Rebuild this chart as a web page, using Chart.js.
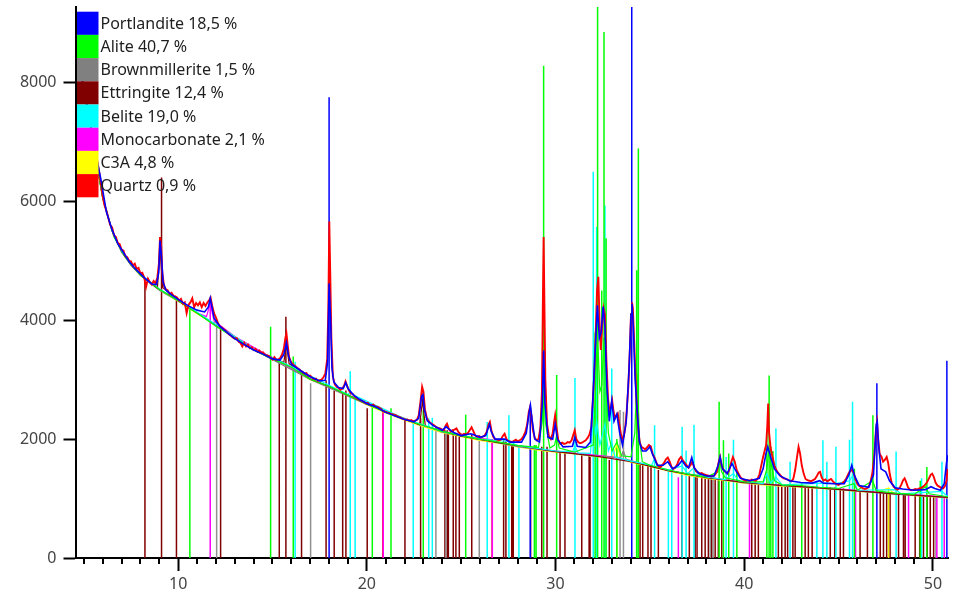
<!DOCTYPE html>
<html>
<head>
<meta charset="utf-8">
<script src="https://cdn.jsdelivr.net/npm/chart.js@4.4.0/dist/chart.umd.min.js"></script>
<style>
  html, body { margin: 0; padding: 0; background: #fff; }
  #wrap { width: 969px; height: 593px; }
</style>
</head>
<body>
<div id="wrap"><canvas id="xrd" width="969" height="593"></canvas></div>
<script>
// phases shown in the legend (quantities in wt-%)
var phaseNames = ['Portlandite', 'Alite', 'Brownmillerite', 'Ettringite', 'Belite', 'Monocarbonate', 'C3A', 'Quartz'];
var phasePercents = ['18,5', '40,7', '1,5', '12,4', '19,0', '2,1', '4,8', '0,9'];
var phaseColors = ['#0000ff', '#00ff00', '#808080', '#800000', '#00ffff', '#ff00ff', '#ffff00', '#ff0000'];

var xTicks = [10, 20, 30, 40, 50];
var yTicks = [0, 2000, 4000, 6000, 8000];

// measured pattern [2theta, counts]
var measured = [
  [4.70,8450],[4.85,8170],[5.00,7920],[5.15,7660],[5.30,7390],[5.45,7120],[5.60,6870],[5.75,6620],[5.85,6420],[6.00,6090],
  [6.10,5930],[6.20,5840],[6.30,5720],[6.40,5600],[6.50,5560],[6.60,5430],[6.70,5400],[6.80,5300],[6.90,5280],[7.00,5190],
  [7.10,5170],[7.20,5080],[7.30,5060],[7.40,5000],[7.50,4990],[7.60,4920],[7.70,4950],[7.80,4860],[7.90,4880],[8.00,4790],
  [8.10,4800],[8.20,4720],[8.30,4560],[8.40,4700],[8.50,4640],[8.60,4600],[8.70,4660],[8.80,4620],[8.90,4720],[8.98,4950],
  [9.04,5400],[9.10,5250],[9.16,4800],[9.25,4580],[9.35,4520],[9.45,4500],[9.55,4440],[9.65,4460],[9.75,4410],[9.85,4400],
  [9.95,4380],[10.05,4330],[10.15,4360],[10.25,4280],[10.35,4300],[10.45,4120],[10.55,4260],[10.65,4300],[10.75,4370],[10.85,4220],
  [10.95,4290],[11.05,4250],[11.15,4300],[11.25,4220],[11.35,4290],[11.45,4240],[11.55,4300],[11.65,4340],[11.72,4380],[11.80,4250],
  [11.90,4120],[12.00,4050],[12.10,3960],[12.20,3900],[12.30,3880],[12.40,3850],[12.50,3830],[12.60,3790],[12.70,3760],[12.80,3740],
  [12.90,3710],[13.00,3690],[13.10,3700],[13.20,3640],[13.30,3620],[13.40,3560],[13.50,3620],[13.60,3560],[13.70,3590],[13.80,3530],
  [13.90,3550],[14.00,3500],[14.10,3520],[14.20,3470],[14.30,3490],[14.40,3450],[14.50,3460],[14.60,3420],[14.70,3410],[14.80,3400],
  [14.90,3370],[15.00,3340],[15.10,3380],[15.20,3330],[15.30,3340],[15.40,3360],[15.50,3420],[15.60,3520],[15.68,3700],[15.74,3780],
  [15.80,3600],[15.88,3380],[15.98,3300],[16.08,3260],[16.20,3230],[16.30,3200],[16.40,3180],[16.50,3150],[16.60,3130],[16.70,3100],
  [16.80,3110],[16.90,3060],[17.00,3070],[17.10,3030],[17.20,3010],[17.30,3020],[17.40,2980],[17.50,2990],[17.60,3000],[17.70,3040],
  [17.80,3100],[17.90,3350],[17.96,4200],[18.01,5660],[18.06,4800],[18.12,3700],[18.20,3050],[18.30,2920],[18.40,2880],[18.50,2860],
  [18.60,2830],[18.70,2850],[18.80,2900],[18.87,2970],[18.95,2900],[19.05,2820],[19.15,2770],[19.25,2760],[19.35,2720],[19.45,2690],
  [19.55,2670],[19.65,2660],[19.75,2640],[19.85,2630],[19.95,2600],[20.05,2610],[20.15,2580],[20.25,2570],[20.35,2580],[20.45,2550],
  [20.55,2545],[20.65,2530],[20.75,2510],[20.85,2470],[20.95,2460],[21.05,2450],[21.15,2440],[21.25,2430],[21.35,2420],[21.45,2410],
  [21.55,2400],[21.65,2380],[21.75,2370],[21.85,2350],[21.95,2340],[22.05,2320],[22.15,2330],[22.25,2310],[22.35,2320],[22.45,2300],
  [22.55,2310],[22.65,2320],[22.75,2400],[22.85,2650],[22.93,2880],[23.00,2800],[23.08,2500],[23.18,2350],[23.28,2300],[23.38,2270],
  [23.48,2250],[23.58,2230],[23.68,2200],[23.78,2190],[23.88,2180],[23.98,2160],[24.08,2150],[24.18,2230],[24.25,2260],[24.35,2170],
  [24.45,2130],[24.55,2150],[24.65,2160],[24.75,2180],[24.85,2120],[24.95,2090],[25.05,2070],[25.15,2090],[25.25,2080],[25.35,2100],
  [25.45,2150],[25.55,2200],[25.65,2130],[25.75,2060],[25.85,2040],[25.95,2050],[26.05,2030],[26.15,2040],[26.25,2060],[26.35,2120],
  [26.45,2250],[26.52,2290],[26.60,2150],[26.70,2040],[26.80,2000],[26.90,1990],[27.00,1980],[27.10,1990],[27.20,2050],[27.30,2090],
  [27.40,2000],[27.50,1970],[27.60,1960],[27.70,1950],[27.80,1970],[27.90,1990],[28.00,1960],[28.10,1980],[28.20,2000],[28.30,2050],
  [28.40,2120],[28.50,2250],[28.58,2450],[28.65,2540],[28.72,2400],[28.80,2150],[28.90,2020],[29.00,1980],[29.10,2000],[29.20,2200],
  [29.28,2800],[29.33,4330],[29.37,5400],[29.41,4300],[29.46,3000],[29.55,2250],[29.65,2050],[29.75,2000],[29.85,2100],[29.93,2300],
  [29.98,2400],[30.05,2200],[30.15,1980],[30.25,1920],[30.35,1940],[30.45,1920],[30.55,1930],[30.65,1950],[30.75,1940],[30.85,1980],
  [30.95,2080],[31.02,2150],[31.10,2000],[31.20,1950],[31.30,1930],[31.40,1940],[31.50,1960],[31.60,1980],[31.70,2020],[31.80,2080],
  [31.90,2200],[31.97,2600],[32.05,3100],[32.12,3700],[32.20,4500],[32.27,4730],[32.33,4000],[32.40,3500],[32.47,3900],[32.55,4200],
  [32.62,4100],[32.70,3300],[32.78,2700],[32.86,2450],[32.94,2550],[33.00,2650],[33.06,2500],[33.14,2350],[33.22,2400],[33.30,2430],
  [33.38,2250],[33.46,2100],[33.55,1990],[33.62,2050],[33.70,2200],[33.78,2500],[33.86,2900],[33.94,3500],[34.00,4100],[34.05,4300],
  [34.10,4200],[34.16,3700],[34.22,3200],[34.30,2600],[34.38,2200],[34.46,1950],[34.55,1870],[34.65,1850],[34.75,1830],[34.85,1860],
  [34.95,1900],[35.05,1880],[35.15,1750],[35.25,1690],[35.35,1600],[35.45,1540],[35.55,1530],[35.65,1560],[35.75,1600],[35.85,1660],
  [35.95,1690],[36.05,1620],[36.15,1530],[36.25,1500],[36.35,1520],[36.45,1580],[36.55,1660],[36.65,1700],[36.75,1640],[36.85,1600],
  [36.95,1560],[37.05,1520],[37.15,1560],[37.25,1620],[37.35,1520],[37.45,1460],[37.55,1440],[37.65,1420],[37.75,1430],[37.85,1410],
  [37.95,1400],[38.05,1390],[38.15,1380],[38.25,1370],[38.35,1380],[38.45,1400],[38.55,1450],[38.65,1620],[38.72,1700],[38.80,1560],
  [38.90,1480],[39.00,1450],[39.10,1420],[39.20,1470],[39.30,1600],[39.40,1700],[39.50,1620],[39.60,1480],[39.70,1420],[39.80,1360],
  [39.90,1330],[40.00,1310],[40.10,1300],[40.20,1310],[40.30,1300],[40.40,1320],[40.50,1310],[40.60,1300],[40.70,1330],[40.80,1400],
  [40.90,1550],[41.00,1700],[41.08,1800],[41.16,1900],[41.22,2200],[41.27,2600],[41.32,2100],[41.40,1850],[41.50,1700],[41.60,1560],
  [41.70,1480],[41.80,1430],[41.90,1400],[42.00,1360],[42.10,1340],[42.20,1330],[42.30,1320],[42.40,1300],[42.50,1290],[42.60,1330],
  [42.70,1480],[42.80,1700],[42.88,1870],[42.96,1760],[43.05,1560],[43.15,1420],[43.25,1330],[43.35,1310],[43.45,1300],[43.55,1290],
  [43.65,1310],[43.75,1330],[43.85,1380],[43.95,1440],[44.02,1450],[44.10,1360],[44.20,1300],[44.30,1320],[44.40,1290],[44.50,1310],
  [44.60,1330],[44.70,1290],[44.80,1260],[44.90,1240],[45.00,1230],[45.10,1250],[45.20,1260],[45.30,1290],[45.40,1330],[45.50,1400],
  [45.60,1460],[45.70,1480],[45.80,1430],[45.90,1320],[46.00,1240],[46.10,1210],[46.20,1190],[46.30,1170],[46.40,1160],[46.50,1170],
  [46.60,1200],[46.70,1290],[46.80,1450],[46.90,1750],[46.98,2150],[47.04,2280],[47.10,2000],[47.18,1750],[47.28,1700],[47.36,1620],
  [47.45,1650],[47.55,1700],[47.63,1600],[47.72,1400],[47.82,1260],[47.92,1200],[48.02,1170],[48.12,1150],[48.22,1170],[48.32,1230],
  [48.42,1310],[48.50,1340],[48.58,1280],[48.68,1190],[48.78,1150],[48.88,1140],[48.98,1150],[49.08,1160],[49.18,1150],[49.28,1170],
  [49.38,1180],[49.48,1200],[49.58,1230],[49.68,1270],[49.78,1330],[49.88,1400],[49.96,1420],[50.04,1370],[50.14,1270],[50.24,1220],
  [50.34,1200],[50.44,1180],[50.54,1170],[50.64,1210],[50.72,1300],[50.78,1500]
];

// calculated (fitted) pattern
var calculated = [
  [4.70,8400],[5.00,7900],[5.30,7360],[5.60,6850],[5.90,6380],[6.20,5820],[6.50,5520],[6.80,5290],[7.10,5140],[7.40,4990],
  [7.70,4880],[8.00,4780],[8.30,4690],[8.60,4610],[8.85,4600],[8.97,4800],[9.04,5340],[9.11,5100],[9.20,4640],[9.35,4510],
  [9.60,4440],[10.00,4350],[10.50,4250],[11.00,4170],[11.40,4140],[11.60,4220],[11.70,4370],[11.78,4240],[11.90,4040],[12.20,3900],
  [12.60,3790],[13.00,3690],[13.50,3590],[14.00,3500],[14.50,3430],[15.00,3350],[15.40,3330],[15.60,3420],[15.74,3620],[15.85,3400],
  [16.00,3260],[16.50,3150],[17.00,3050],[17.50,2980],[17.80,2990],[17.92,3300],[18.00,4620],[18.08,4000],[18.15,3200],[18.25,2960],
  [18.50,2870],[18.75,2850],[18.88,2950],[19.00,2850],[19.30,2740],[19.60,2670],[20.00,2600],[20.50,2540],[21.00,2450],[21.50,2390],
  [22.00,2330],[22.50,2290],[22.75,2350],[22.90,2720],[22.97,2750],[23.05,2500],[23.20,2310],[23.50,2230],[24.00,2150],[24.20,2210],
  [24.30,2180],[24.60,2110],[25.00,2060],[25.50,2090],[25.60,2080],[26.00,2030],[26.30,2060],[26.50,2250],[26.60,2120],[26.80,2000],
  [27.30,2000],[27.60,1950],[28.20,1950],[28.45,2100],[28.60,2450],[28.67,2570],[28.75,2350],[28.90,2000],[29.15,1950],[29.30,2600],
  [29.37,3490],[29.44,2600],[29.60,2030],[29.85,2000],[29.98,2250],[30.10,2000],[30.40,1870],[30.90,1880],[31.02,2030],[31.15,1880],
  [31.60,1860],[31.85,1950],[32.00,2800],[32.12,3600],[32.22,4250],[32.32,3700],[32.42,3800],[32.52,4230],[32.62,3900],[32.72,2900],
  [32.85,2300],[32.98,2650],[33.10,2300],[33.25,2420],[33.40,2100],[33.55,1900],[33.75,2300],[33.90,3200],[34.00,4100],[34.05,4280],
  [34.12,3900],[34.22,3000],[34.32,2500],[34.45,1950],[34.60,1800],[34.80,1800],[35.00,1870],[35.15,1740],[35.40,1560],[35.70,1560],
  [35.95,1620],[36.20,1500],[36.50,1560],[36.70,1640],[36.90,1550],[37.05,1520],[37.22,1690],[37.35,1520],[37.60,1420],[38.00,1380],
  [38.40,1380],[38.62,1560],[38.72,1700],[38.85,1500],[39.10,1420],[39.35,1590],[39.50,1500],[39.80,1340],[40.30,1300],[40.80,1340],
  [41.00,1500],[41.15,1750],[41.25,1870],[41.40,1700],[41.60,1500],[41.90,1380],[42.40,1300],[43.00,1270],[43.60,1260],[44.00,1300],
  [44.20,1260],[44.80,1250],[45.30,1250],[45.55,1400],[45.70,1560],[45.85,1380],[46.10,1220],[46.60,1190],[46.85,1400],[47.00,2250],
  [47.05,2300],[47.12,1900],[47.25,1500],[47.50,1450],[47.70,1300],[48.00,1180],[48.40,1160],[49.00,1140],[49.60,1150],[49.90,1200],
  [50.10,1170],[50.40,1140],[50.60,1250],[50.72,1600],[50.80,1730]
];

// single phase curves (background + phase)
var aliteCurve = [
  [4.7,8380],[5.3,7340],[6.0,6060],[6.6,5400],[7.2,5060],[8,4760],[9,4520],[10,4330],[10.6,4200],[11,4120],[12,3900],[13,3700],
  [14,3500],[14.9,3360],[15,3350],[16,3210],[17,3010],[18,2890],[19,2740],[20,2590],[21,2450],[22,2330],[23,2230],[24,2130],
  [25,2060],[26,2000],[27,1950],[28,1890],[29.1,1860],[29.3,2300],[29.37,3200],[29.45,2300],[29.7,1850],[29.95,1900],[30.05,2050],
  [30.2,1850],[31,1780],[32,1900],[32.1,2700],[32.22,3800],[32.35,2800],[32.45,2900],[32.57,3700],[32.68,3000],[32.8,2100],[33,1800],
  [33.25,1950],[33.5,1720],[34,1700],[34.2,2100],[34.32,3100],[34.45,2000],[34.6,1620],[35,1560],[36,1480],[37,1410],[38,1360],
  [38.6,1450],[38.7,1650],[38.8,1450],[39,1350],[40,1280],[41,1280],[41.2,1500],[41.3,1800],[41.42,1600],[41.6,1300],[42,1230],
  [43,1220],[44,1190],[45,1170],[45.8,1250],[46,1140],[46.8,1300],[47,1130],[48,1090],[49,1070],[49.6,1200],[49.8,1080],[50.8,1030]
];
var beliteCurve = [
  [4.7,8380],[5,7920],[5.5,6990],[6,6080],[6.5,5510],[7,5160],[7.5,4940],[8,4770],[9,4525],[10,4340],[12,3930],[14,3520],[16,3220],
  [19,2750],[19.12,2800],[19.3,2740],[22,2340],[24,2130],
  [26,2000],[27.53,1960],[28,1890],[30,1800],[30.9,1790],[31.03,1880],[31.2,1770],[31.85,1760],[32.0,2350],[32.1,2100],[32.18,2300],
  [32.35,1900],[32.62,2250],[32.8,1800],[32.98,1950],[33.15,1700],[34,1630],[35.1,1560],[35.25,1680],[35.4,1530],[36,1480],
  [36.71,1550],[37,1420],[37.34,1520],[37.6,1380],[39,1320],[39.43,1420],[39.7,1300],[41,1250],[41.2,1420],[41.4,1260],[41.68,1360],
  [42,1230],[44.17,1260],[44.86,1250],[45.58,1300],[45.74,1380],[46,1140],[48.05,1150],[48.3,1080],[50.48,1120],[50.8,1030]
];
var ettringiteCurve = [
  [4.7,8380],[5,7910],[5.5,6985],[6,6070],[6.5,5505],[7,5160],[7.5,4935],[8,4760],[8.9,4540],[9.04,5200],[9.18,4550],[10,4330],
  [12,3920],[14,3510],[15.6,3290],[15.74,3600],
  [15.88,3270],[17,3010],[18,2890],[20,2590],[22.8,2240],[22.95,2650],[23.1,2220],[25,2050],[27,1940],[30,1790],[32,1720],[34,1620],
  [36,1470],[38,1350],[40,1270],[42,1220],[44,1180],[46,1130],[48,1080],[50.8,1020]
];
var brownmilleriteCurve = [
  [4.7,8360],[5,7900],[5.5,6975],[6,6060],[6.5,5495],[7,5145],[7.5,4925],[8,4755],[9,4505],[10,4325],[11.9,3940],[12.05,4000],
  [12.2,3900],[14,3505],[17,3005],[20,2585],[24,2115],[28,1875],
  [32,1715],[33.45,1690],[33.6,1800],[33.75,1660],[36,1465],[40,1265],[44,1175],[48,1075],[50.8,1015]
];
var monocarbonateCurve = [
  [4.7,8370],[5,7905],[5.5,6985],[6,6070],[6.5,5505],[7,5165],[7.5,4935],[8,4765],[9,4525],[10,4335],[11,4125],[11.5,4060],
  [11.7,4280],[11.9,3990],[13,3725],[15,3365],
  [17,3015],[19,2745],[20.87,2480],[21,2455],[23,2225],[25,2055],[26.65,1990],[27,1945],[29,1835],[31,1765],[33,1700],[35,1555],
  [37,1405],[39,1315],[41,1245],[43,1205],[45,1165],[47,1110],[49,1065],[50.8,1025]
];
var c3aCurve = [
  [4.7,8350],[5,7880],[5.5,6980],[6,6050],[6.5,5500],[7,5150],[7.5,4930],[8,4750],[9,4510],[10,4320],[11,4110],[12,3920],[13,3710],
  [14,3510],[15,3350],[16,3200],[17,3000],[18,2880],[19,2730],[20,2580],[21,2440],[22,2320],[23,2210],[24,2110],[25,2040],[26,1980],
  [27,1930],[28,1870],[29,1820],[30,1780],[31,1750],[32,1710],[33,1690],[33.25,1900],[33.45,1680],[34,1610],[35,1540],[36,1460],
  [37,1390],[38,1340],[39,1300],[40,1260],[41,1230],[42,1210],[43,1190],[44,1170],[45,1150],[46,1120],[47,1100],[47.65,1180],
  [47.9,1090],[49,1050],[50,1030],[50.8,1010]
];

// reflection markers [2theta, top]
var portlanditeSticks = [[18.0,7750],[28.66,2500],[34.04,9500],[47.03,2940],[50.74,3320]];
var aliteSticks = [
  [10.62,4230],[14.9,3890],[16.1,3390],[20.29,2540],[21.28,2520],[22.99,2490],[25.24,2410],[28.88,1900],[28.97,1900],[29.37,8280],
  [30.06,3080],[32.1,3800],[32.23,9500],[32.45,4500],[32.57,8850],[32.68,5380],[33.25,2000],[34.3,4840],[34.39,6890],[38.67,2630],
  [38.9,1980],[39.18,1760],[39.61,1450],[41.2,2150],[41.32,3070],[41.41,1870],[41.52,1800],[43.05,1280],[45.84,1500],[46.82,2400],
  [49.33,1300],[49.68,1530]
];
var brownmilleriteSticks = [
  [12.04,4000],[17.02,2940],[23.66,2210],[24.19,2100],[25.96,2040],[33.42,2490],[33.6,2460],[38.2,1340],[38.35,1340],[50.16,1040]
];
var ettringiteSticks = [
  [8.24,4700],[9.12,6400],[9.91,4390],[12.25,3890],[15.36,3280],[15.71,4060],[16.54,3100],[17.84,2990],[18.27,2820],[18.72,2770],
  [18.89,2820],[20.02,2520],[22.02,2320],[22.85,2350],[24.14,2150],[24.26,2150],[24.32,2100],[24.58,2150],[24.72,2100],[24.9,2070],
  [25.56,2070],[27.25,1980],[27.37,1960],[27.68,1900],[27.76,1900],[28.68,1870],[29.27,1870],[29.55,1870],[30.24,1790],[30.5,1790],
  [31.39,1760],[31.78,1740],[31.83,1700],[32.85,1650],[34.48,1600],[34.62,1600],[34.9,1580],[35.06,1560],[35.45,1480],[36.7,1430],
  [37.09,1420],[37.4,1400],[37.5,1400],[37.75,1370],[37.93,1360],[38.1,1340],[38.28,1340],[38.46,1330],[38.63,1330],[38.81,1320],
  [40.4,1260],[40.58,1250],[40.75,1250],[41.81,1250],[41.99,1240],[42.17,1235],[42.3,1235],[42.58,1230],[42.7,1230],[43.23,1210],
  [43.4,1210],[43.6,1205],[44.56,1190],[44.8,1185],[45.09,1175],[45.26,1170],[46.14,1140],[46.53,1130],[47.21,1110],[47.38,1110],
  [47.55,1105],[47.73,1100],[48.18,1090],[48.44,1085],[48.53,1080],[49.06,1070],[49.3,1065],[49.5,1060],[49.7,1055],[49.86,1050],
  [50.04,1045]
];
var beliteSticks = [
  [16.2,3300],[19.12,3140],[19.38,2710],[22.46,2290],[23.28,2350],[23.47,2360],[26.38,2290],[27.53,2400],[28.06,1870],[31.03,3030],
  [32.0,6500],[32.18,5570],[32.62,5930],[32.98,3190],[35.25,2235],[35.98,1480],[36.16,1470],[36.71,2210],[36.92,1810],[37.34,2240],
  [39.04,1700],[39.43,1990],[41.68,2180],[42.43,1620],[43.85,1300],[44.17,1980],[44.38,1620],[44.86,1870],[45.58,1990],[45.74,2630],
  [48.05,1790],[49.4,1340],[50.48,1620]
];
var monocarbonateSticks = [[11.7,4300],[20.87,2430],[26.65,1950],[36.51,1360],[40.28,1250],[45.9,1150],[48.71,1085],[50.21,1045],[50.6,1040]];
var c3aSticks = [[33.25,1900],[47.65,1180]];
var quartzSticks = [[20.85,2450],[26.64,2000]];

function curveData(list) {
  return list.map(function (p) { return { x: p[0], y: p[1] }; });
}
function stickData(list) {
  var out = [];
  list.forEach(function (s) {
    out.push({ x: s[0], y: 0 }, { x: s[0], y: s[1] }, { x: s[0], y: null });
  });
  return out;
}
function curve(label, list, color, width, order) {
  return { label: label, data: curveData(list), borderColor: color, borderWidth: width, order: order,
           pointRadius: 0, fill: false, tension: 0 };
}
function sticks(label, list, color, order) {
  return { label: label, data: stickData(list), borderColor: color, borderWidth: 1.5, order: order,
           pointRadius: 0, fill: false, tension: 0, spanGaps: false };
}

var phaseLegend = {
  id: 'phaseLegend',
  afterDatasetsDraw: function (chart) {
    var ctx = chart.ctx, a = chart.chartArea;
    var left = a.left + 1.5, top = a.top + 4.7, h = 23.2, w = 21.5;
    ctx.save();
    ctx.font = '16px "Noto Sans"';
    ctx.textBaseline = 'middle';
    phaseNames.forEach(function (name, i) {
      var y = top + i * h;
      ctx.fillStyle = phaseColors[i];
      ctx.fillRect(left, y, w, h);
      ctx.fillStyle = '#1e1e1e';
      ctx.fillText(name + ' ' + phasePercents[i] + ' %', left + w + 2, y + h / 2 + 1);
    });
    ctx.restore();
  }
};

var minorTicks = {
  id: 'minorTicks',
  afterDraw: function (chart) {
    var sx = chart.scales.x, ctx = chart.ctx, b = chart.chartArea.bottom;
    ctx.save();
    ctx.strokeStyle = '#000';
    ctx.lineWidth = 2;
    for (var v = Math.ceil(sx.min); v <= sx.max; v++) {
      if (v % 10 === 0) continue;
      var px = Math.round(sx.getPixelForValue(v));
      ctx.beginPath();
      ctx.moveTo(px, b);
      ctx.lineTo(px, b + 6);
      ctx.stroke();
    }
    ctx.restore();
  }
};

Chart.defaults.font.family = '"Noto Sans", sans-serif';

new Chart(document.getElementById('xrd'), {
  type: 'line',
  data: {
    datasets: [
      curve('calculated', calculated, '#0000ff', 1.6, 0),
      curve('measured', measured, '#ff0000', 1.9, 1),
      curve('Alite', aliteCurve, '#00ff00', 1.2, 2),
      curve('Belite', beliteCurve, '#00ffff', 1.2, 3),
      curve('Ettringite', ettringiteCurve, '#800000', 1.2, 4),
      curve('Brownmillerite', brownmilleriteCurve, '#808080', 1.2, 5),
      curve('Monocarbonate', monocarbonateCurve, '#ff00ff', 1.2, 6),
      curve('C3A', c3aCurve, '#ffff00', 1.2, 7),
      sticks('Portlandite', portlanditeSticks, '#0000ff', 10),
      sticks('Alite', aliteSticks, '#00ff00', 11),
      sticks('Belite', beliteSticks, '#00ffff', 12),
      sticks('Monocarbonate', monocarbonateSticks, '#ff00ff', 13),
      sticks('C3A', c3aSticks, '#e8e800', 14),
      sticks('Quartz', quartzSticks, '#ff0000', 15),
      sticks('Brownmillerite', brownmilleriteSticks, '#909090', 16),
      sticks('Ettringite', ettringiteSticks, '#800000', 17)
    ]
  },
  options: {
    responsive: false,
    animation: false,
    events: [],
    layout: { padding: { top: 7, right: 21, left: 0, bottom: 0 } },
    plugins: { legend: { display: false }, tooltip: { enabled: false } },
    scales: {
      x: {
        type: 'linear',
        min: 4.56,
        max: 50.8,
        afterBuildTicks: function (s) { s.ticks = xTicks.map(function (v) { return { value: v }; }); },
        afterFit: function (s) { s.height = 35; s.paddingLeft = 0; s.paddingRight = 0; },
        ticks: { color: '#444', font: { size: 16 }, padding: 4, maxRotation: 0, autoSkip: false,
                 callback: function (v) { return String(v); } },
        grid: { drawOnChartArea: false, drawTicks: true, tickLength: 13, tickWidth: 2, tickColor: '#000' },
        border: { color: '#000', width: 2 }
      },
      y: {
        type: 'linear',
        min: 0,
        max: 9270,
        afterBuildTicks: function (s) { s.ticks = yTicks.map(function (v) { return { value: v }; }); },
        afterFit: function (s) { s.width = 75.5; s.paddingTop = 0; s.paddingBottom = 0; },
        ticks: { color: '#444', font: { size: 16 }, padding: 7,
                 callback: function (v) { return String(v); } },
        grid: { drawOnChartArea: false, drawTicks: true, tickLength: 12, tickWidth: 2, tickColor: '#000' },
        border: { color: '#000', width: 2 }
      }
    }
  },
  plugins: [phaseLegend, minorTicks]
});
</script>
</body>
</html>
